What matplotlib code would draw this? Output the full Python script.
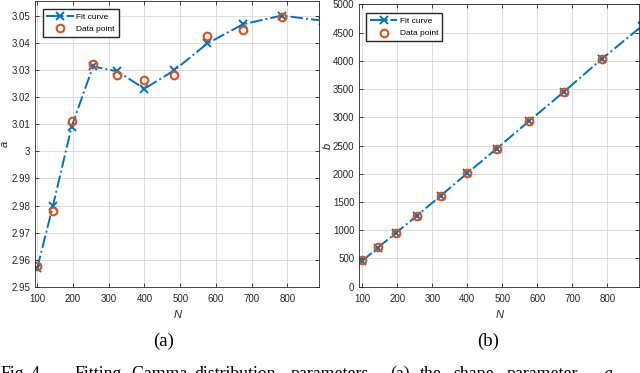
import matplotlib
matplotlib.use("Agg")
import matplotlib.pyplot as plt

# N = n^2, n = 10..28 (fit curve also evaluated at 900)
N_data = [100, 144, 196, 256, 324, 400, 484, 576, 676, 784]
N_fit = [100, 144, 196, 256, 324, 400, 484, 576, 676, 784, 900]

a_data = [2.9578, 2.9778, 3.0113, 3.0322, 3.0283, 3.0265, 3.0283, 3.0425, 3.0450, 3.0498]
a_fit = [2.9570, 2.9800, 3.0091, 3.0314, 3.0296, 3.0232, 3.0300, 3.0399, 3.0470, 3.0502, 3.0483]

b_data = [475, 697, 945, 1252, 1606, 2008, 2438, 2928, 3447, 4030]
b_fit = [455, 690, 950, 1258, 1610, 2010, 2445, 2930, 3450, 4030, 4620]

xticks = [100, 200, 300, 400, 500, 600, 700, 800]
a_ticks = [2.95, 2.96, 2.97, 2.98, 2.99, 3.0, 3.01, 3.02, 3.03, 3.04, 3.05]
a_ticklabels = ["2.95", "2.96", "2.97", "2.98", "2.99", "3", "3.01", "3.02", "3.03", "3.04", "3.05"]
b_ticks = [0, 500, 1000, 1500, 2000, 2500, 3000, 3500, 4000, 4500, 5000]

blue = "#0072BD"
orange = "#D95319"

plt.rcParams["font.family"] = "Liberation Sans"

fig = plt.figure(figsize=(6.4, 3.73), dpi=100)
W, H = 640.0, 373.0


def make_axes(left, right, top, bottom):
    return fig.add_axes([left / W, 1 - bottom / H, (right - left) / W, (bottom - top) / H])


def style(ax, ylabel, ylab_x):
    ax.grid(True, color="#dcdcdc", linewidth=0.7)
    ax.set_axisbelow(True)
    ax.tick_params(direction="in", length=3, width=0.6, top=True, right=True,
                   labelsize=7, colors="#262626")
    ax.tick_params(axis="x", pad=5)
    ax.tick_params(axis="y", pad=3.5)
    for s in ax.spines.values():
        s.set_color("#262626")
        s.set_linewidth(0.6)
    ax.set_xticks(xticks)
    xl = ax.set_xlabel("N", style="italic", fontsize=8, color="#262626")
    yl = ax.set_ylabel(ylabel, style="italic", fontsize=8, color="#262626")
    xl.set_va("center")
    yl.set_va("center")
    ax.yaxis.set_label_coords(ylab_x, 0.5)
    ax.xaxis.set_label_coords(0.503, -0.099)


def plot_pair(ax, yfit, ydata):
    ax.plot(N_fit, yfit, linestyle="-.", color=blue, linewidth=1.4, marker="x",
            markersize=6, markeredgewidth=1.4, label="Fit curve")
    ax.plot(N_data, ydata, linestyle="none", marker="o", markersize=5.5,
            markerfacecolor="none", markeredgecolor=orange, markeredgewidth=1.5,
            label="Data point")


legend_kw = dict(loc="upper left", fontsize=6, frameon=True, fancybox=False,
                 edgecolor="#262626", framealpha=1, borderpad=0.45,
                 handlelength=3.3, handletextpad=0.3, labelspacing=0.6,
                 borderaxespad=0)

# (a) shape parameter
ax1 = make_axes(35, 319, 1, 286.7)
plot_pair(ax1, a_fit, a_data)
ax1.set_xlim(93.6, 888.8)
ax1.set_ylim(2.95, 3.0556)
ax1.set_yticks(a_ticks)
ax1.set_yticklabels(a_ticklabels)
style(ax1, "a", (5 - 35) / 284)
ax1.legend(bbox_to_anchor=(0.027, 0.972), **legend_kw)

# (b) scale parameter
ax2 = make_axes(359.3, 639, 4.3, 286.7)
plot_pair(ax2, b_fit, b_data)
ax2.set_xlim(91.4, 890.6)
ax2.set_ylim(0, 5000)
ax2.set_yticks(b_ticks)
style(ax2, "b", (328 - 359.3) / 279.7)
ax2.legend(bbox_to_anchor=(0.024, 0.969), **legend_kw)

# sub-captions
fig.text(164 / W, 1 - 341 / H, "(a)", family="Liberation Serif", fontsize=13.5,
         ha="center", va="center")
fig.text(488 / W, 1 - 341 / H, "(b)", family="Liberation Serif", fontsize=13.5,
         ha="center", va="center")

# figure caption (cut off by the crop)
caption_words = [("Fig.", 0), ("4.", 31), ("Fitting", 74), ("Gamma", 131),
                 ("distribution", 194), ("parameters.", 291), ("(a)", 390),
                 ("the", 420), ("shape", 453), ("parameter", 507), ("a", 603)]
for word, x in caption_words:
    fig.text(x / W, 1 - 379 / H, word, family="Liberation Serif", fontsize=12.8,
             ha="left", va="baseline", style="italic" if word == "a" else "normal")

fig.savefig("out.png", dpi=100)
